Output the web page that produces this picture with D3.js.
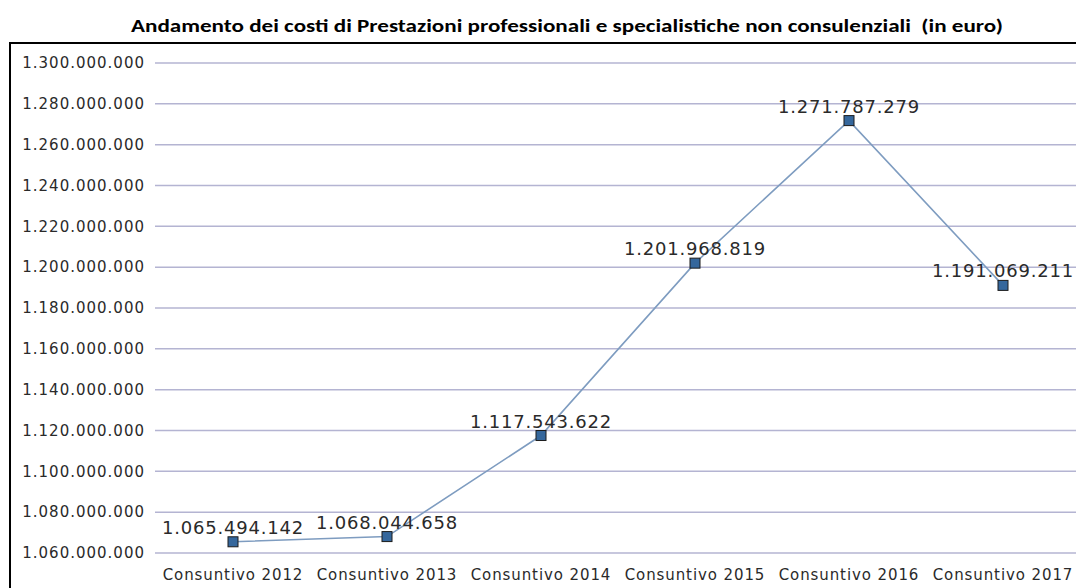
<!DOCTYPE html>
<html>
<head>
<meta charset="utf-8">
<script src="https://cdn.jsdelivr.net/npm/d3@7"></script>
<style>
  body { margin: 0; background: #fff; }
  svg { display: block; }
</style>
</head>
<body>
<svg id="chart"></svg>
<script>
// chart data
const categories = ["Consuntivo 2012", "Consuntivo 2013", "Consuntivo 2014", "Consuntivo 2015", "Consuntivo 2016", "Consuntivo 2017"];
const costs = [1065494142, 1068044658, 1117543622, 1201968819, 1271787279, 1191069211];
const yTicks = [1060000000, 1080000000, 1100000000, 1120000000, 1140000000, 1160000000, 1180000000,
                1200000000, 1220000000, 1240000000, 1260000000, 1280000000, 1300000000];
const title = "Andamento dei costi di Prestazioni professionali e specialistiche non consulenziali  (in euro)";

const width = 1076, height = 588;
const plot = { left: 156, right: 1080, top: 63, bottom: 553 };

const it = d3.formatLocale({ decimal: ",", thousands: ".", grouping: [3], currency: ["", "€"] });
const fmt = it.format(",d");

const svg = d3.select("#chart")
    .attr("width", width)
    .attr("height", height);

// title
svg.append("text")
    .attr("x", 567)
    .attr("y", 32)
    .attr("text-anchor", "middle")
    .attr("font-family", "Carlito, 'Open Sans', sans-serif")
    .attr("font-weight", "bold")
    .attr("font-size", 18.5)
    .attr("textLength", 872)
    .attr("lengthAdjust", "spacingAndGlyphs")
    .style("white-space", "pre")
    .text(title);

// outer frame
svg.append("rect")
    .attr("x", 10)
    .attr("y", 43)
    .attr("width", 1100)
    .attr("height", 600)
    .attr("fill", "none")
    .attr("stroke", "#000")
    .attr("stroke-width", 2);

const x = d3.scaleBand()
    .domain(categories)
    .range([plot.left, plot.right]);

const y = d3.scaleLinear()
    .domain([d3.min(yTicks), d3.max(yTicks)])
    .range([plot.bottom, plot.top]);

// y axis with grid lines
const yAxis = svg.append("g")
    .attr("transform", "translate(" + plot.left + ",0)")
    .call(d3.axisLeft(y).tickValues(yTicks).tickFormat(fmt).tickSize(0).tickPadding(11));
yAxis.select(".domain").remove();
yAxis.selectAll("text")
    .attr("font-family", "'DejaVu Sans', sans-serif")
    .attr("font-size", 15)
    .attr("letter-spacing", 1)
    .attr("fill", "#2a2a2a");

svg.append("g")
    .selectAll("line")
    .data(yTicks)
    .enter().append("line")
    .attr("x1", plot.left - 1)
    .attr("x2", width)
    .attr("y1", d => y(d))
    .attr("y2", d => y(d))
    .attr("stroke", "#b4b4d2")
    .attr("stroke-width", 1.5);

// x axis labels
const xAxis = svg.append("g")
    .attr("transform", "translate(0," + plot.bottom + ")")
    .call(d3.axisBottom(x).tickSize(0).tickPadding(16));
xAxis.select(".domain").remove();
xAxis.selectAll("text")
    .attr("font-family", "'DejaVu Sans', sans-serif")
    .attr("font-size", 15)
    .attr("letter-spacing", 0.9)
    .attr("fill", "#2a2a2a");

const cx = (d, i) => x(categories[i]) + x.bandwidth() / 2;

// line
svg.append("path")
    .datum(costs)
    .attr("fill", "none")
    .attr("stroke", "#7e9cc0")
    .attr("stroke-width", 1.6)
    .attr("d", d3.line().x(cx).y(d => y(d)));

// markers
svg.selectAll(".pt")
    .data(costs)
    .enter().append("rect")
    .attr("class", "pt")
    .attr("x", (d, i) => cx(d, i) - 5)
    .attr("y", d => y(d) - 5)
    .attr("width", 10)
    .attr("height", 10)
    .attr("fill", "#35679c")
    .attr("stroke", "#1c1c1c")
    .attr("stroke-width", 1);

// value labels
svg.selectAll(".lbl")
    .data(costs)
    .enter().append("text")
    .attr("class", "lbl")
    .attr("x", cx)
    .attr("y", d => y(d) - 8)
    .attr("text-anchor", "middle")
    .attr("font-family", "'DejaVu Sans', sans-serif")
    .attr("font-size", 18)
    .attr("letter-spacing", 0.8)
    .attr("fill", "#2a2a2a")
    .text(d => fmt(d));
</script>
</body>
</html>
